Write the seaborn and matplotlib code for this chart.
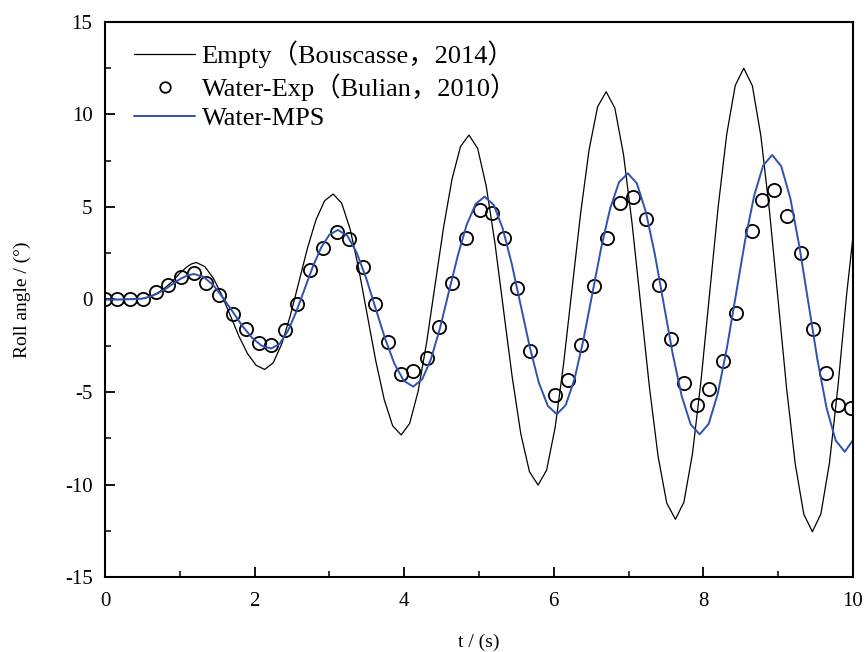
import numpy as np
import pandas as pd
import matplotlib
matplotlib.use("Agg")
import matplotlib.pyplot as plt
import seaborn as sns

# Empty ship (Bouscasse, 2014) - black line
empty_t = [0.0, 0.2, 0.4, 0.5, 0.6, 0.7, 0.8, 0.9, 1.0, 1.1, 1.16,
           1.22, 1.334, 1.449, 1.563, 1.678, 1.792, 1.906, 2.021,
           2.135, 2.249, 2.364, 2.478, 2.593, 2.707, 2.821, 2.936,
           3.05, 3.164, 3.278, 3.391, 3.505, 3.619, 3.733, 3.846,
           3.96, 4.073, 4.187, 4.300, 4.413, 4.526, 4.640, 4.753,
           4.866, 4.982, 5.097, 5.213, 5.328, 5.444, 5.559, 5.675,
           5.79, 5.904, 6.018, 6.131, 6.245, 6.359, 6.473, 6.586,
           6.70, 6.816, 6.932, 7.047, 7.163, 7.279, 7.395, 7.510,
           7.626, 7.740, 7.855, 7.969, 8.083, 8.197, 8.312, 8.426,
           8.54, 8.655, 8.769, 8.884, 8.999, 9.113, 9.228, 9.342,
           9.457, 9.571, 9.686, 9.800, 9.914, 10.0]
empty_roll = [0.0, 0.0, 0.02, 0.05, 0.15, 0.35, 0.62, 0.97, 1.42, 1.78, 1.93,
              2.0, 1.78, 1.15, 0.22, -0.89, -2.00, -2.93, -3.56,
              -3.78, -3.42, -2.39, -0.86, 0.96, 2.78, 4.31, 5.34,
              5.7, 5.21, 3.79, 1.68, -0.81, -3.30, -5.41, -6.83,
              -7.32, -6.70, -4.95, -2.32, 0.79, 3.89, 6.52, 8.27,
              8.89, 8.17, 6.12, 3.05, -0.57, -4.19, -7.26, -9.31,
              -10.03, -9.22, -6.92, -3.47, 0.6, 4.67, 8.12, 10.42,
              11.23, 10.35, 7.84, 4.10, -0.33, -4.75, -8.49, -11.00,
              -11.88, -10.95, -8.31, -4.36, 0.31, 4.98, 8.93, 11.57,
              12.5, 11.55, 8.83, 4.77, -0.03, -4.82, -8.88, -11.60,
              -12.55, -11.59, -8.82, -4.67, 0.22, 3.4]

# Water, experiment (Bulian, 2010) - open circles
exp_t = [0.0, 0.156, 0.334, 0.504, 0.678, 0.843, 1.013, 1.19, 1.356, 1.525,
         1.712, 1.88, 2.058, 2.224, 2.40, 2.57, 2.74, 2.916, 3.095, 3.264,
         3.443, 3.61, 3.787, 3.957, 4.12, 4.30, 4.467, 4.633, 4.82, 5.01,
         5.17, 5.34, 5.51, 5.68, 6.01, 6.19, 6.37, 6.54, 6.71, 6.885,
         7.055, 7.23, 7.40, 7.567, 7.74, 7.91, 8.08, 8.26, 8.43, 8.645,
         8.78, 8.94, 9.12, 9.30, 9.47, 9.635, 9.80, 9.97]
exp_roll = [0.0, 0.0, 0.0, 0.0, 0.4, 0.78, 1.23, 1.42, 0.91, 0.24,
            -0.8, -1.6, -2.33, -2.46, -1.65, -0.26, 1.59, 2.77, 3.67, 3.27,
            1.77, -0.26, -2.31, -4.03, -3.85, -3.18, -1.47, 0.9, 3.34, 4.84,
            4.66, 3.34, 0.6, -2.78, -5.16, -4.35, -2.46, 0.74, 3.34, 5.2,
            5.56, 4.35, 0.78, -2.14, -4.5, -5.7, -4.84, -3.31, -0.73, 3.7,
            5.38, 5.92, 4.51, 2.53, -1.58, -3.99, -5.7, -5.85]

# Water, MPS simulation - blue line
mps_t = [0.0, 0.2, 0.4, 0.5, 0.6, 0.7, 0.8, 0.9, 1.0, 1.1,
         1.19, 1.319, 1.448, 1.576, 1.705, 1.834, 1.963, 2.091,
         2.22, 2.332, 2.444, 2.556, 2.668, 2.779, 2.891, 3.003,
         3.115, 3.241, 3.366, 3.492, 3.618, 3.743, 3.869, 3.994,
         4.12, 4.240, 4.359, 4.479, 4.598, 4.718, 4.837, 4.957,
         5.076, 5.197, 5.317, 5.438, 5.558, 5.679, 5.799, 5.920,
         6.04, 6.159, 6.278, 6.396, 6.515, 6.634, 6.753, 6.871,
         6.99, 7.11, 7.23, 7.35, 7.47, 7.59, 7.71, 7.83,
         7.95, 8.071, 8.193, 8.314, 8.435, 8.556, 8.678, 8.799,
         8.92, 9.041, 9.163, 9.284, 9.405, 9.526, 9.648, 9.769,
         9.89, 10.0]
mps_roll = [0.0, 0.0, 0.02, 0.05, 0.15, 0.32, 0.55, 0.82, 1.1, 1.3,
            1.38, 1.22, 0.77, 0.1, -0.65, -1.42, -2.06, -2.49,
            -2.65, -2.41, -1.71, -0.67, 0.56, 1.78, 2.82, 3.52,
            3.76, 3.44, 2.52, 1.15, -0.48, -2.10, -3.47, -4.39,
            -4.71, -4.32, -3.21, -1.54, 0.43, 2.39, 4.06, 5.17,
            5.56, 5.11, 3.84, 1.93, -0.32, -2.57, -4.48, -5.75,
            -6.2, -5.71, -4.29, -2.18, 0.31, 2.80, 4.91, 6.33,
            6.82, 6.28, 4.75, 2.47, -0.24, -2.94, -5.22, -6.75,
            -7.29, -6.72, -5.08, -2.63, 0.26, 3.15, 5.60, 7.24,
            7.81, 7.20, 5.46, 2.86, -0.21, -3.28, -5.88, -7.62,
            -8.23, -7.6]

labels = ["Empty（Bouscasse，2014）", "Water-Exp（Bulian，2010）", "Water-MPS"]

sns.set_theme(style="ticks")
plt.rcParams["font.family"] = ["Liberation Serif", "Noto Sans CJK SC", "DejaVu Sans"]
plt.rcParams["axes.unicode_minus"] = False
plt.rcParams["xtick.direction"] = "in"
plt.rcParams["ytick.direction"] = "in"
plt.rcParams["text.color"] = "black"
plt.rcParams["axes.labelcolor"] = "black"

fig = plt.figure(figsize=(8.65, 6.52), dpi=100)
ax = fig.add_axes([0.1214, 0.115, 0.8647, 0.8513])

sns.lineplot(x=empty_t, y=empty_roll, ax=ax, color="black", linewidth=0.9,
             sort=False, label=labels[0])
sns.lineplot(x=exp_t, y=exp_roll, ax=ax, color="black", linestyle="", marker="o",
             markersize=9.5, markerfacecolor="none", markeredgecolor="black",
             markeredgewidth=1.3, sort=False, label=labels[1])
sns.lineplot(x=mps_t, y=mps_roll, ax=ax, color="#2f52b0", linewidth=1.4,
             sort=False, label=labels[2])

ax.set_xlim(0, 10)
ax.set_ylim(-15, 15)
ax.set_xticks([0, 2, 4, 6, 8, 10])
ax.set_xticks([1, 3, 5, 7, 9], minor=True)
ax.set_yticks([-15, -10, -5, 0, 5, 10, 15])
ax.set_yticks([-12.5, -7.5, -2.5, 2.5, 7.5, 12.5], minor=True)
ax.tick_params(which="major", length=7, width=1.3, labelsize=15, colors="black")
ax.tick_params(axis="x", which="major", pad=11)
ax.tick_params(axis="y", which="major", pad=9)
ax.tick_params(which="minor", length=4, width=1.3)
for s in ax.spines.values():
    s.set_linewidth(1.5)
    s.set_color("black")

ax.set_xlabel("t / (s)", fontsize=14, labelpad=16)
ax.set_ylabel("Roll angle / (°)", fontsize=14, labelpad=24)

leg = ax.legend(loc="upper left", bbox_to_anchor=(0.018, 0.995), frameon=False,
                fontsize=19, handlelength=2.3, handletextpad=0.25,
                labelspacing=0.2, borderaxespad=0.2, markerscale=0.8)
for txt in leg.get_texts():
    txt.set_color("black")

fig.savefig("out.png", dpi=100)
